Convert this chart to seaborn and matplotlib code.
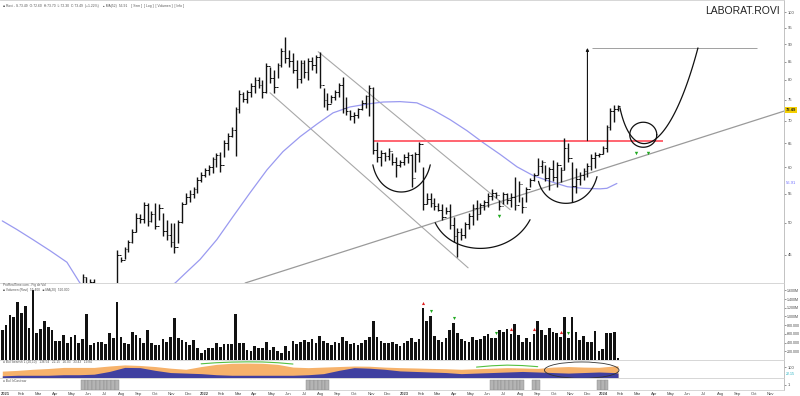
import numpy as np
import pandas as pd
import matplotlib
matplotlib.use("Agg")
import matplotlib.pyplot as plt
import seaborn as sns
from matplotlib.patches import Ellipse

sns.set_theme(style="white")
plt.rcParams['font.family'] = ['Liberation Sans', 'DejaVu Sans']

# ---------------- data (weekly bars, index 0 = first week of 2021) ----------------
highs = [39.0, 38.8, 39.2, 39.8, 39.5, 38.6, 38.0, 38.4, 39.0, 39.6,
         40.0, 40.3, 39.9, 39.4, 39.0, 39.5, 40.1, 40.5, 40.7, 40.6,
         40.9, 42.2, 41.8, 41.6, 41.5, 40.9, 40.6, 40.4, 40.3, 40.8,
         45.7, 44.7, 46.2, 47.3, 48.9, 51.7, 51.4, 53.6, 53.4, 51.9,
         53.4, 53.1, 51.7, 50.5, 50.0, 50.0, 50.5, 53.6, 55.1, 55.7,
         56.2, 58.1, 59.1, 59.9, 60.5, 62.1, 62.9, 63.2, 65.7, 67.2,
         68.6, 73.2, 77.4, 76.9, 77.4, 79.2, 80.8, 80.8, 80.0, 84.6,
         83.5, 82.7, 84.6, 88.9, 92.2, 88.3, 87.5, 85.5, 85.5, 85.5,
         86.1, 86.4, 86.9, 87.7, 77.9, 76.7, 76.2, 77.4, 79.2, 80.8,
         75.7, 72.5, 72.0, 73.0, 74.9, 76.2, 78.7, 78.2, 65.3, 63.6,
         63.2, 64.0, 63.0, 62.1, 61.5, 62.6, 63.2, 62.6, 63.2, 65.3,
         60.1, 55.1, 55.1, 54.2, 53.4, 53.1, 52.7, 53.1, 51.0, 49.2,
         49.2, 50.2, 51.7, 53.1, 53.9, 53.4, 53.9, 55.1, 55.9, 55.4,
         53.9, 55.4, 55.1, 55.1, 58.1, 57.3, 54.5, 56.2, 57.9, 58.9,
         61.9, 61.5, 60.5, 60.1, 61.5, 61.1, 60.1, 66.1, 65.1, 61.1,
         59.9, 59.1, 59.9, 60.9, 62.6, 63.2, 63.0, 64.3, 69.0, 73.0,
         73.7, 73.7]
lows = [37.2, 37.0, 37.3, 38.1, 37.8, 36.9, 36.5, 37.0, 37.6, 38.0,
        38.5, 38.8, 38.4, 37.9, 37.6, 38.2, 38.6, 39.0, 39.3, 39.2,
        39.5, 40.4, 40.6, 40.5, 40.3, 39.6, 39.2, 39.0, 38.8, 39.4,
        40.2, 43.9, 44.3, 45.4, 46.8, 48.5, 50.0, 50.0, 49.4, 50.2,
        48.9, 50.5, 47.8, 47.3, 46.2, 45.3, 46.8, 50.0, 53.1, 53.6,
        54.3, 55.2, 57.1, 58.2, 58.6, 58.9, 60.1, 59.1, 62.0, 63.6,
        66.4, 62.2, 71.8, 74.4, 74.2, 75.7, 76.7, 78.0, 75.4, 76.7,
        79.2, 76.7, 80.5, 83.5, 84.6, 83.5, 81.9, 78.0, 79.2, 80.5,
        80.0, 82.7, 81.9, 78.0, 73.2, 72.5, 74.2, 74.9, 75.7, 71.8,
        71.3, 70.2, 69.5, 70.7, 72.5, 73.0, 71.0, 62.6, 61.0, 60.3,
        61.3, 61.5, 60.5, 58.2, 60.1, 60.5, 60.9, 56.2, 59.1, 61.1,
        52.2, 53.1, 52.7, 52.2, 51.9, 50.5, 51.4, 48.9, 47.0, 44.6,
        47.3, 47.6, 48.9, 49.7, 50.5, 51.4, 52.2, 52.7, 53.9, 54.3,
        52.2, 53.1, 53.1, 52.7, 52.2, 53.6, 51.7, 53.6, 56.2, 57.3,
        58.6, 58.9, 57.3, 55.7, 57.3, 56.2, 57.1, 59.5, 61.1, 53.6,
        55.1, 56.7, 57.6, 58.2, 59.5, 59.9, 62.0, 62.6, 63.2, 67.9,
        69.7, 72.3]
closes = [38.4, 37.6, 38.9, 39.2, 38.3, 37.4, 37.7, 38.0, 38.7, 39.1,
          39.7, 39.4, 38.9, 38.5, 38.8, 39.2, 39.8, 40.1, 39.9, 40.3,
          40.6, 41.8, 41.0, 41.2, 40.8, 40.1, 39.8, 39.5, 39.9, 40.5,
          45.0, 44.2, 45.8, 47.0, 48.5, 50.8, 50.6, 53.0, 50.3, 51.5,
          49.5, 52.4, 48.6, 48.0, 47.0, 46.2, 50.1, 53.2, 54.5, 54.9,
          55.8, 57.6, 58.5, 59.4, 60.0, 61.6, 62.4, 60.5, 65.0, 66.5,
          67.8, 72.8, 76.5, 75.2, 76.8, 78.5, 80.1, 78.6, 77.0, 83.8,
          80.4, 78.2, 84.0, 88.0, 86.0, 85.1, 82.6, 80.2, 84.6, 82.0,
          85.2, 84.0, 86.2, 78.8, 75.0, 74.0, 75.6, 76.8, 78.6, 73.0,
          72.2, 71.0, 71.4, 72.6, 74.2, 75.8, 77.9, 63.5, 62.0, 62.8,
          62.2, 63.4, 61.0, 60.4, 61.0, 62.0, 62.5, 58.0, 62.6, 64.8,
          53.2, 54.0, 53.4, 52.8, 52.2, 51.0, 52.0, 49.6, 47.8, 48.5,
          48.0, 49.8, 51.2, 52.5, 51.4, 53.0, 53.5, 54.6, 55.2, 54.8,
          52.8, 54.9, 53.8, 54.5, 53.0, 56.8, 52.6, 55.8, 57.5, 58.6,
          60.2, 61.0, 58.0, 59.6, 58.2, 60.4, 59.5, 64.0, 61.8, 56.5,
          57.8, 58.5, 59.2, 60.3, 61.8, 62.5, 62.6, 64.0, 68.5, 72.2,
          72.6, 73.49]
volumes_k = [690, 805, 1035, 989, 1334, 1081, 1242, 736, 1610, 621,
             713, 897, 759, 690, 437, 437, 575, 391, 529, 575,
             391, 483, 1058, 345, 391, 414, 414, 368, 621, 506,
             1334, 529, 391, 368, 644, 575, 506, 391, 690, 391,
             345, 345, 483, 414, 529, 966, 506, 460, 414, 345,
             460, 276, 161, 230, 276, 276, 391, 299, 368, 368,
             368, 1058, 391, 391, 230, 207, 322, 276, 276, 414,
             230, 299, 207, 161, 322, 207, 437, 368, 414, 450,
             420, 480, 380, 560, 430, 400, 350, 420, 380, 520,
             440, 360, 400, 340, 380, 460, 520, 900, 520, 440,
             400, 380, 420, 360, 330, 380, 440, 500, 420, 480,
             1200, 900, 1000, 560, 460, 420, 500, 700, 850, 620,
             480, 440, 420, 520, 460, 480, 560, 600, 500, 500,
             690, 644, 713, 598, 828, 575, 414, 506, 414, 598,
             897, 690, 575, 736, 644, 621, 529, 989, 506, 989,
             644, 460, 552, 414, 414, 667, 207, 253, 621, 621,
             644, 46]

# 52-week moving average
ma_idx = [0, 3.8, 8, 12.5, 16.9, 20.3, 24, 32, 39, 45.2, 47.8, 51.7, 56.1, 60.3,
          64.8, 69.2, 73.4, 77.9, 82.3, 86.5, 90.9, 95.4, 99.6, 104, 108.4, 112.6,
          117.1, 121.5, 125.7, 130.2, 134.6, 138.8, 143.2, 147.7, 151.9, 156.3, 158.1, 160.7]
ma_val = [50.3, 48.9, 47.3, 45.6, 43.9, 41.0, 39.6, 38.8, 39.4, 41.0, 42.3, 44.3, 47.3, 51.0,
          55.2, 59.5, 63.2, 66.4, 69.2, 71.8, 73.2, 73.9, 74.4, 74.5, 74.2, 72.5,
          70.2, 67.7, 65.1, 62.6, 60.1, 58.4, 57.3, 56.3, 56.0, 55.9, 56.0, 56.9]

# lower oscillator panel (sampled every 4 weeks)
osc_idx = list(range(0, 161, 4)) + [161]
osc_orange = [63, 70, 80, 87, 97, 97, 97, 110, 120, 115, 105, 90, 80, 105,
              125, 135, 137, 135, 125, 100, 95, 100, 105, 110, 108, 100,
              95, 92, 88, 85, 80, 85, 90, 95, 92, 88, 100, 105, 100, 98, 110, 112]
osc_blue = [20, 25, 25, 25, 30, 30, 35, 60, 97, 95, 70, 50, 45, 40,
            30, 25, 25, 25, 25, 25, 30, 40, 70, 95, 90, 80, 65, 60, 55,
            50, 40, 45, 50, 55, 60, 55, 50, 45, 50, 55, 50, 45]
green_idx_a = [52, 56, 60, 64, 68, 72, 76]
green_val_a = [130, 140, 146, 148, 147, 140, 128]
green_idx_b = [124, 128, 132, 136, 140]
green_val_b = [100, 112, 118, 114, 104]
signal_weeks = [21, 22, 23, 24, 25, 26, 27, 28, 29, 30, 80, 81, 82, 83, 84, 85,
                128, 129, 130, 131, 132, 133, 134, 135, 136, 139, 140, 156, 157, 158]

price_ticks = [45, 50, 55, 60, 65, 70, 75, 80, 85, 90, 95, 100]
month_labels = ['2021', 'Feb', 'Mar', 'Apr', 'May', 'Jun', 'Jul', 'Aug', 'Sep', 'Oct', 'Nov', 'Dec',
                '2022', 'Feb', 'Mar', 'Apr', 'May', 'Jun', 'Jul', 'Aug', 'Sep', 'Oct', 'Nov', 'Dec',
                '2023', 'Feb', 'Mar', 'Apr', 'May', 'Jun', 'Jul', 'Aug', 'Sep', 'Oct', 'Nov', 'Dec',
                '2024', 'Feb', 'Mar', 'Apr', 'May', 'Jun', 'Jul', 'Aug', 'Sep', 'Oct', 'Nov']

# annotation anchors (week index, price)
resistance = 65.5
resist_span = (97, 172.8)
target_price = 88.9
channel_upper = [(82.6, 87.8), (132.8, 52.2)]
channel_lower = [(70.0, 76.7), (121.8, 43.1)]
trend_long = [(63.5, 41.0), (204.4, 72.2)]
cups = [[(96.9, 60.5), (98.8, 53.7), (109.8, 53.7), (111.9, 60.5)],
        [(113.2, 50.0), (117.6, 44.6), (132.8, 44.6), (138.0, 50.5)],
        [(140.2, 57.3), (142.2, 51.9), (153.2, 51.9), (155.5, 58.2)]]
projection = [(161.5, 73.0), (164.7, 60.5), (174.1, 61.5), (181.9, 88.9)]
circle_center = (167.6, 66.8)
green_marks_idx = [130, 165.7, 168.9]
green_marks_price = [51.2, 62.8, 62.8]
vol_red_marks = [110, 133, 139, 146]
vol_green_marks = [112, 118, 129, 148]

df = pd.DataFrame({'week': np.arange(len(highs)), 'high': highs, 'low': lows,
                   'close': closes, 'volume': volumes_k})
df['open'] = df['close'].shift(1).fillna(df['close'])

# ---------------- layout ----------------
W, H = 800, 396
fig = plt.figure(figsize=(W / 100, H / 100), dpi=100)
fig.patch.set_facecolor('white')


def rect(y0, y1):
    return [0, 1 - y1 / H, 784 / W, (y1 - y0) / H]


ax_p = fig.add_axes(rect(0, 283))
ax_v = fig.add_axes(rect(283, 360), sharex=ax_p)
ax_a = fig.add_axes(rect(360, 378), sharex=ax_p)
ax_i = fig.add_axes(rect(378, 390), sharex=ax_p)

XMIN, XMAX = -0.6, 204.4
for ax in (ax_p, ax_v, ax_a, ax_i):
    ax.set_facecolor('white')
    ax.set_xlim(XMIN, XMAX)
    ax.spines['left'].set_visible(False)
    ax.spines['right'].set_color('#b8b8b8')
    ax.spines['right'].set_linewidth(0.6)
    for s in ('top', 'bottom'):
        ax.spines[s].set_color('#d0d0d0')
        ax.spines[s].set_linewidth(0.6)
    ax.yaxis.tick_right()
    ax.tick_params(axis='y', labelsize=3.0, length=1.5, width=0.4, pad=1.2,
                   colors='#444444', right=True, left=False)
    ax.tick_params(axis='x', length=0, labelbottom=False)
    ax.grid(False)

# ---------------- price panel ----------------
ax_p.set_yscale('log')
ax_p.set_ylim(41.0, 104.1)
ax_p.yaxis.set_major_locator(matplotlib.ticker.FixedLocator(price_ticks))
ax_p.yaxis.set_minor_locator(matplotlib.ticker.NullLocator())
ax_p.yaxis.set_major_formatter(matplotlib.ticker.FixedFormatter([str(t) for t in price_ticks]))

sns.lineplot(x=ma_idx, y=ma_val, ax=ax_p, color='#9a9af0', lw=0.9, zorder=2)

ax_p.vlines(df['week'], df['low'], df['high'], color='#111111', lw=1.0, zorder=4)
ax_p.hlines(df['open'], df['week'] - 0.45, df['week'], color='#111111', lw=0.7, zorder=4)
ax_p.hlines(df['close'], df['week'], df['week'] + 0.45, color='#111111', lw=0.7, zorder=4)

for (a, b), col, lw in [(channel_upper, '#a8a8a8', 0.8), (channel_lower, '#a8a8a8', 0.8),
                        (trend_long, '#9a9a9a', 0.9)]:
    ax_p.plot([a[0], b[0]], [a[1], b[1]], color=col, lw=lw, zorder=1)

ax_p.hlines(resistance, *resist_span, color='#ff6470', lw=1.4, zorder=3)
ax_p.hlines(target_price, 154.2, 197.4, color='#a0a0a0', lw=0.7, zorder=3)
ax_p.annotate('', xy=(153, target_price), xytext=(153, resistance),
              arrowprops=dict(arrowstyle='-|>', color='#111111', lw=0.8,
                              mutation_scale=4, shrinkA=0, shrinkB=0), zorder=5)


def bezier(ax, pts, n=80, **kw):
    d = ax.transData.transform(np.array(pts))
    t = np.linspace(0, 1, n)[:, None]
    curve = ((1 - t) ** 3) * d[0] + 3 * ((1 - t) ** 2) * t * d[1] + 3 * (1 - t) * t ** 2 * d[2] + t ** 3 * d[3]
    back = ax.transData.inverted().transform(curve)
    ax.plot(back[:, 0], back[:, 1], **kw)


for cup in cups:
    bezier(ax_p, cup, color='#111111', lw=0.9, zorder=5)
bezier(ax_p, projection, color='#111111', lw=0.9, zorder=5)

c = ax_p.transData.transform([circle_center])[0]
th = np.linspace(0, 2 * np.pi, 100)
circ = np.column_stack([c[0] + 13.5 * np.cos(th), c[1] + 12.5 * np.sin(th)])
circ = ax_p.transData.inverted().transform(circ)
ax_p.plot(circ[:, 0], circ[:, 1], color='#111111', lw=0.9, zorder=5)

ax_p.scatter(green_marks_idx, green_marks_price, marker='v', s=6, color='#22aa22', zorder=6, linewidths=0)

ax_p.annotate('73.49', xy=(1.0, 72.4), xycoords=('axes fraction', 'data'), xytext=(1.5, 0),
              textcoords='offset points', fontsize=3.0, fontweight='bold', va='center', ha='left',
              color='#222222', bbox=dict(boxstyle='square,pad=0.25', fc='#f5d000', ec='none'))
ax_p.annotate('56.91', xy=(1.0, 57.0), xycoords=('axes fraction', 'data'), xytext=(1.5, 0),
              textcoords='offset points', fontsize=3.0, va='center', ha='left', color='#7070ff')

# ---------------- volume panel ----------------
sns.barplot(data=df, x='week', y='volume', native_scale=True, color='#111111', saturation=1,
            width=0.7, errorbar=None, linewidth=0, ax=ax_v)
ax_v.set_xlim(XMIN, XMAX)
ax_v.set_ylim(0, 1770)
vt = [200, 400, 600, 800, 1000, 1200, 1400, 1600]
ax_v.set_yticks(vt)
ax_v.set_yticklabels(['200.000', '400.000', '600.000', '800.000', '1.000M', '1.200M', '1.400M', '1.600M'])
ax_v.tick_params(axis='y', labelsize=2.6, pad=0.8)
ax_v.set_xlabel('')
ax_v.set_ylabel('')
ax_v.tick_params(axis='x', length=0, labelbottom=False)
ax_v.scatter(vol_red_marks, [df['volume'][i] + 120 for i in vol_red_marks], marker='^', s=5,
             color='#e02020', linewidths=0, zorder=5)
ax_v.scatter(vol_green_marks, [df['volume'][i] + 120 for i in vol_green_marks], marker='v', s=5,
             color='#22aa22', linewidths=0, zorder=5)

# ---------------- oscillator panel ----------------
ax_a.fill_between(osc_idx, 0, osc_orange, color='#f6b26b', lw=0)
ax_a.fill_between(osc_idx, 0, osc_blue, color='#4040a0', lw=0)
sns.lineplot(x=green_idx_a, y=green_val_a, ax=ax_a, color='#55c040', lw=0.8)
sns.lineplot(x=green_idx_b, y=green_val_b, ax=ax_a, color='#55c040', lw=0.8)
ax_a.set_ylim(0, 165)
ax_a.set_yticks([100])
ax_a.set_yticklabels(['100'])
ax_a.set_xlabel('')
ax_a.set_ylabel('')
ax_a.tick_params(axis='x', length=0, labelbottom=False)
ax_a.annotate('22.15', xy=(1.0, 40), xycoords=('axes fraction', 'data'), xytext=(1.5, 0),
              textcoords='offset points', fontsize=2.6, va='center', ha='left', color='#20b0c0')
ax_a.add_patch(Ellipse((151.5, 72), 19.5, 150, fill=False, ec='#333333', lw=0.6, zorder=6))

# ---------------- signal panel ----------------
ax_i.bar(signal_weeks, [1] * len(signal_weeks), width=1.0, color='#b4b4b4', edgecolor='#888888', lw=0.3)
ax_i.set_ylim(0, 1.15)
ax_i.set_yticks([0.5])
ax_i.set_yticklabels(['1'])
mt = [0.7 + 4.35 * m for m in range(len(month_labels))]
ax_i.set_xticks(mt)
ax_i.set_xticklabels(month_labels)
ax_i.tick_params(axis='x', labelbottom=True, labelsize=3.0, pad=1.2, colors='#444444', length=0)
for lab in ax_i.get_xticklabels():
    if lab.get_text().isdigit():
        lab.set_fontweight('bold')
ax_i.set_xlim(XMIN, XMAX)

# ---------------- texts ----------------
fig.text(780 / W, 1 - 14 / H, 'LABORAT.ROVI', ha='right', va='baseline', fontsize=7.5, color='#222222')
fig.text(0.004, 1 - 5.5 / H,
         '■ Rovi - S.73.49  O:72.60  H:73.70  L:72.30  C:73.49  (+1.22%)    ● MA(52)  56.91    [ Sem ]  [ Log ]  [ Volumen ]  [ Info ]',
         fontsize=2.4, color='#555555', va='center')
fig.text(0.004, 1 - 285 / H, 'ProRealTime.com - Fig de Vol', fontsize=2.3, color='#555555', va='center')
fig.text(0.004, 1 - 290 / H, '■ Volumen (Rovi)  55.400   ■ MA(20)  520.000', fontsize=2.3, color='#555555', va='center')
fig.text(0.004, 1 - 362.5 / H, '≡ Bull bearish 1 (20,10)   136.54   22.15   26.03   33.43   19.84', fontsize=2.3, color='#555555', va='center')
fig.text(0.004, 1 - 381 / H, '≡ Bull IrCast ww', fontsize=2.3, color='#555555', va='center')

fig.savefig('out.png', dpi=100, facecolor='white')
